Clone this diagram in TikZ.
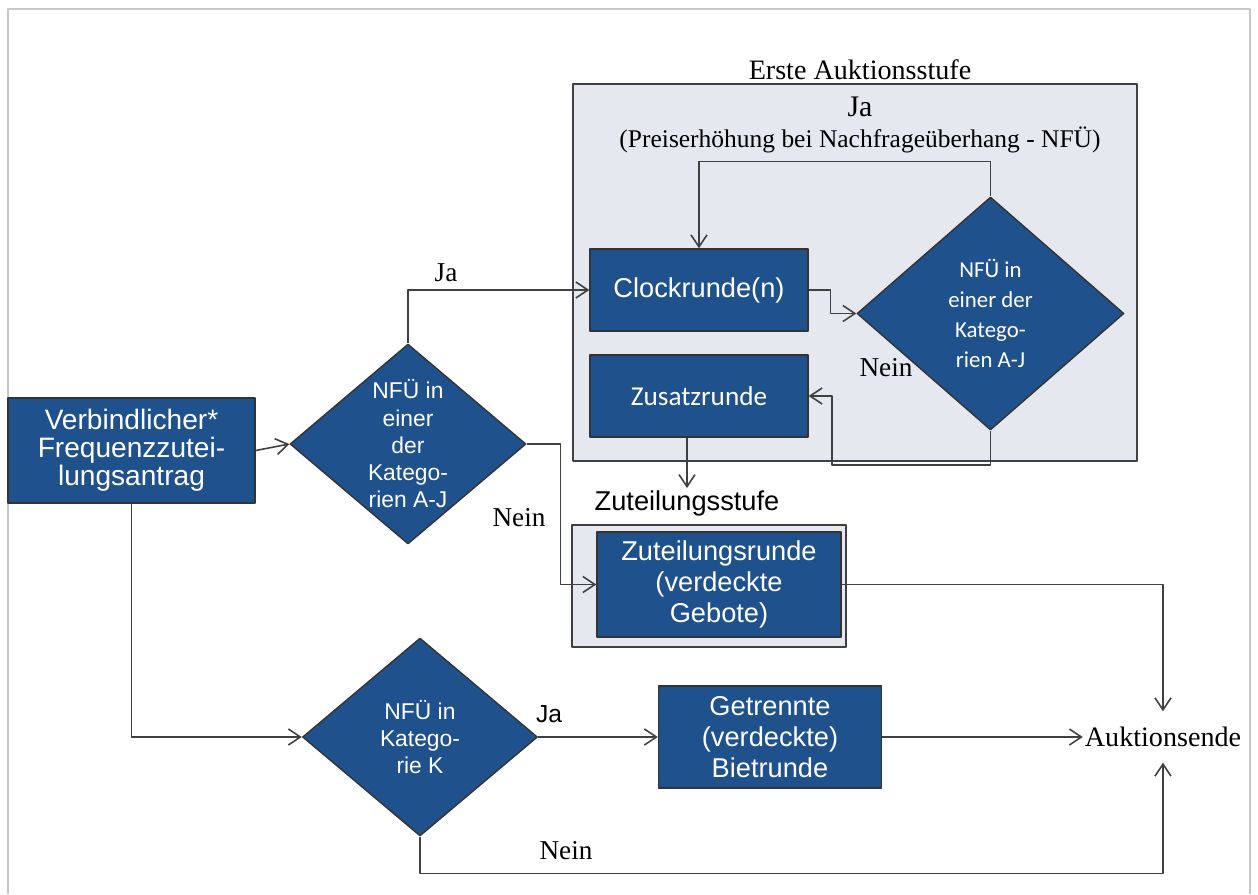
\documentclass[tikz,border=0pt]{standalone}
\usepackage{fontspec}
\setmainfont{Liberation Serif}
\newfontfamily\boxsans{Liberation Sans}
\newfontfamily\calsans{Carlito}
\usetikzlibrary{shapes.geometric,arrows.meta}
\definecolor{boxblue}{RGB}{31,82,140}
\definecolor{stagebg}{RGB}{230,232,240}
\definecolor{linegray}{RGB}{64,64,64}
\tikzset{
  procbox/.style={rectangle,draw=black!80,line width=0.8pt,fill=boxblue,text=white,align=center,inner sep=0pt},
  decision/.style={diamond,draw=black!80,line width=0.8pt,fill=boxblue,text=white,align=center,inner sep=0pt},
  stagebox/.style={rectangle,draw=linegray,line width=0.9pt,fill=stagebg,inner sep=0pt},
  flow/.style={draw=linegray,line width=0.9pt,->},
  lbl/.style={inner sep=0pt,font=\fontsize{15.5}{18}\selectfont},
}
\begin{document}
\begin{tikzpicture}[x=0.02cm,y=-0.02cm,line join=round,>={Straight Barb[length=2.4mm,width=3.2mm]}]
\useasboundingbox (0,0) rectangle (1258,894);
\draw[black!22,line width=1.1pt] (8,894) -- (8,9) -- (1250,9) -- (1250,894);

% stages
\node[stagebox,minimum width=11.28cm,minimum height=7.54cm] (stufeA) at (855,272.5) {};
\node[lbl,font=\fontsize{16}{18}\selectfont] (stufeAtitle) at (860,70) {Erste Auktionsstufe};
\node[stagebox,minimum width=5.48cm,minimum height=2.44cm] (stufeZ) at (709,586) {};
\node[lbl,font=\boxsans\fontsize{15.5}{18}\selectfont] (stufeZtitle) at (687,503) {Zuteilungsstufe};

% blocks
\node[procbox,minimum width=4.94cm,minimum height=2.1cm,font=\boxsans\fontsize{16}{16}\selectfont] (antrag) at (131.5,450.5) {Verbindlicher*\\Frequenzzutei-\\lungsantrag};
\node[decision,shape aspect=1.18,minimum width=4.72cm,minimum height=4cm,font=\boxsans\fontsize{13}{15.5}\selectfont] (dAJ) at (408,444) {NFÜ in\\einer\\der\\Katego-\\rien A-J};
\node[procbox,minimum width=4.36cm,minimum height=1.64cm,font=\boxsans\fontsize{15.5}{18}\selectfont] (clock) at (699,290) {Clockrunde(n)};
\node[decision,shape aspect=1.15,minimum width=5.34cm,minimum height=4.66cm,font=\calsans\fontsize{13}{17}\selectfont] (dloop) at (990.5,313.5) {NFÜ in\\einer der\\Katego-\\rien A-J};
\node[procbox,minimum width=4.36cm,minimum height=1.64cm,font=\calsans\fontsize{15.5}{18}\selectfont] (zusatz) at (699,396) {Zusatzrunde};
\node[procbox,minimum width=4.88cm,minimum height=2.1cm,font=\boxsans\fontsize{15.5}{17.5}\selectfont] (zuteil) at (719,584.5) {Zuteilungsrunde\\(verdeckte\\Gebote)};
\node[decision,shape aspect=1.19,minimum width=4.7cm,minimum height=3.96cm,font=\boxsans\fontsize{13}{15.6}\selectfont] (dK) at (420,737) {NFÜ in\\Katego-\\rie K};
\node[procbox,minimum width=4.46cm,minimum height=2.04cm,font=\boxsans\fontsize{15.5}{17.6}\selectfont] (getrennt) at (770,737) {Getrennte\\(verdeckte)\\Bietrunde};
\node[inner xsep=1pt,inner ysep=8.8pt,font=\fontsize{16}{18}\selectfont] (ende) at (1163,737) {Auktionsende};

% labels
\node[lbl,font=\fontsize{17}{19}\selectfont] (jaLoop) at (860,107) {Ja};
\node[lbl,font=\fontsize{14.5}{17}\selectfont] (preisNote) at (860,140) {(Preiserhöhung bei Nachfrageüberhang - NFÜ)};
\node[lbl] (jaTop) at (446,273) {Ja};
\node[lbl] (neinAJ) at (519,518) {Nein};
\node[lbl] (neinLoop) at (886,368) {Nein};
\node[lbl] (neinK) at (566,851) {Nein};
\node[lbl,font=\boxsans\fontsize{14}{16}\selectfont] (jaK) at (549,714) {Ja};

\coordinate (loopBack) at (832,465);
\coordinate (zuDrop) at (687,488);

% connectors
\draw[flow] (antrag.east) -- (dAJ.west);
\draw[flow] (dAJ.north) |- (clock.west);
\draw[flow] (dAJ.east) -- ++(34,0) |- (zuteil.west);
\draw[flow] (clock.east) -- ++(22,0) |- (dloop.west);
\draw[flow] (dloop.north) -- ++(0,-35) -| (clock.north);
\draw[flow] (dloop.south) |- (loopBack) |- (zusatz.east);
\draw[flow] (zusatz.south -| zuDrop) -- (zuDrop);
\draw[flow] (zuteil.east) -| (ende.north);
\draw[flow] (dK.east) -- (getrennt.west);
\draw[flow] (getrennt.east) -- (ende.west);
\draw[flow] (dK.south) -- ++(0,37) -| (ende.south);
\draw[flow] (antrag.south) |- (dK.west);
\end{tikzpicture}
\end{document}
